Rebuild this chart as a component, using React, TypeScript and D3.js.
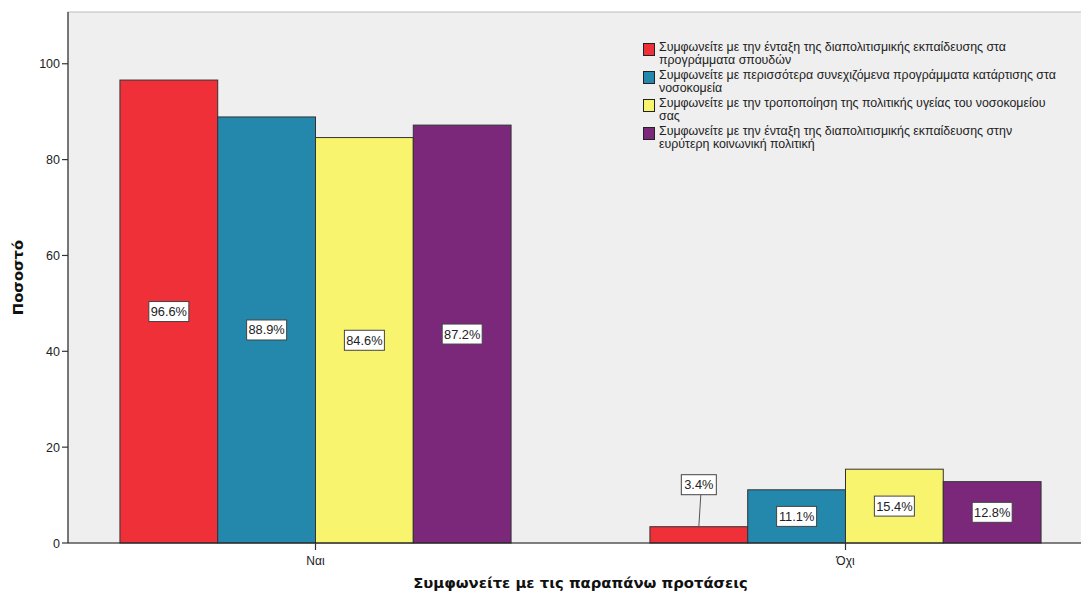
import React from "react";
import * as d3 from "d3";

// Answer categories on the x axis
const categories = ["Ναι", "Όχι"];

// Statement series (legend order)
const seriesNames = [
  ["Συμφωνείτε με την ένταξη της διαπολιτισμικής εκπαίδευσης στα", "προγράμματα σπουδών"],
  ["Συμφωνείτε με περισσότερα συνεχιζόμενα προγράμματα κατάρτισης στα", "νοσοκομεία"],
  ["Συμφωνείτε με την τροποποίηση της πολιτικής υγείας του νοσοκομείου", "σας"],
  ["Συμφωνείτε με την ένταξη της διαπολιτισμικής εκπαίδευσης στην", "ευρύτερη κοινωνική πολιτική"],
];
const seriesColors = ["#EF3039", "#2388AB", "#F8F46E", "#7B287B"];

// Percentages per series, in category order (Ναι, Όχι)
const seriesValues = [
  [96.6, 3.4],
  [88.9, 11.1],
  [84.6, 15.4],
  [87.2, 12.8],
];

const yTicks = [0, 20, 40, 60, 80, 100];

const W = 1081;
const H = 596;
const left = 68;
const top = 12;
const bottom = 543;
const right = 1093;

export default function App() {
  const x0 = d3
    .scaleBand<string>()
    .domain(categories)
    .range([left, right])
    .paddingInner(0.262)
    .paddingOuter(0.098);
  const x1 = d3
    .scaleBand<number>()
    .domain(d3.range(seriesValues.length))
    .range([0, x0.bandwidth()]);
  const y = d3.scaleLinear().domain([0, 110.8]).range([bottom, top]);

  const font = "'Liberation Sans', Arial, sans-serif";
  const boldFont = "'DejaVu Sans', Verdana, sans-serif";

  const bars: React.ReactNode[] = [];
  const labels: React.ReactNode[] = [];
  seriesValues.forEach((vals, si) => {
    vals.forEach((v, ci) => {
      const bx = (x0(categories[ci]) as number) + (x1(si) as number);
      const bw = x1.bandwidth();
      const by = y(v);
      bars.push(
        <rect
          key={`b${si}-${ci}`}
          x={bx}
          y={by}
          width={bw}
          height={bottom - by}
          fill={seriesColors[si]}
          stroke="#333"
          strokeWidth={1}
        />
      );
      const text = `${v.toFixed(1)}%`;
      const boxW = text.length >= 5 ? 40 : 35;
      const boxH = 20;
      const cx = bx + bw / 2;
      const mid = (by + bottom) / 2;
      const small = bottom - by < boxH + 8;
      const cy = small ? by - 42 : mid;
      labels.push(
        <g key={`l${si}-${ci}`}>
          {small && (
            <line x1={cx + 2} y1={cy + boxH / 2} x2={cx} y2={by} stroke="#555" strokeWidth={1} />
          )}
          <rect
            x={cx - boxW / 2}
            y={cy - boxH / 2}
            width={boxW}
            height={boxH}
            fill="#fff"
            stroke="#444"
            strokeWidth={1}
          />
          <text
            x={cx}
            y={cy + 4.5}
            textAnchor="middle"
            fontFamily={font}
            fontSize={12.8}
            fill="#222"
          >
            {text}
          </text>
        </g>
      );
    });
  });

  return (
    <svg
      width={W}
      height={H}
      style={{ position: "absolute", left: 0, top: 0, background: "#fff" }}
    >
      <rect x={left} y={top} width={right - left} height={bottom - top} fill="#EFEFEF" stroke="#BDBDBD" strokeWidth={1} />
      {bars}
      {/* axes */}
      <line x1={left} y1={top} x2={left} y2={bottom} stroke="#555" strokeWidth={1.5} />
      <line x1={left} y1={bottom} x2={right} y2={bottom} stroke="#222" strokeWidth={1.2} />
      {yTicks.map((t) => (
        <g key={t}>
          <line x1={left - 6} y1={y(t)} x2={left} y2={y(t)} stroke="#333" strokeWidth={1.2} />
          <text x={left - 8} y={y(t) + 4.5} textAnchor="end" fontFamily={font} fontSize={12.5} fill="#222">
            {t}
          </text>
        </g>
      ))}
      {categories.map((c) => {
        const cx = (x0(c) as number) + x0.bandwidth() / 2;
        return (
          <g key={c}>
            <line x1={cx} y1={bottom} x2={cx} y2={bottom + 7} stroke="#333" strokeWidth={1.2} />
            <text x={cx} y={bottom + 22} textAnchor="middle" fontFamily={font} fontSize={12} fill="#222">
              {c}
            </text>
          </g>
        );
      })}
      {labels}
      {/* legend */}
      {seriesNames.map((lines, i) => {
        const ly = 45 + i * 28;
        return (
          <g key={i}>
            <rect x={643.5} y={ly - 1.5} width={11} height={12} fill={seriesColors[i]} stroke="#222" strokeWidth={1} />
            {lines.map((ln, j) => (
              <text key={j} x={659} y={ly + 6 + j * 13} fontFamily={font} fontSize={12.4} fill="#222">
                {ln}
              </text>
            ))}
          </g>
        );
      })}
      {/* axis titles */}
      <text
        x={(left + right) / 2}
        y={588}
        textAnchor="middle"
        fontFamily={boldFont}
        fontWeight="bold"
        fontSize={14.8}
        fill="#111"
      >
        Συμφωνείτε με τις παραπάνω προτάσεις
      </text>
      <text
        transform={`translate(23, ${(top + bottom) / 2}) rotate(-90)`}
        textAnchor="middle"
        fontFamily={boldFont}
        fontWeight="bold"
        fontSize={14.8}
        fill="#111"
      >
        Ποσοστό
      </text>
    </svg>
  );
}
